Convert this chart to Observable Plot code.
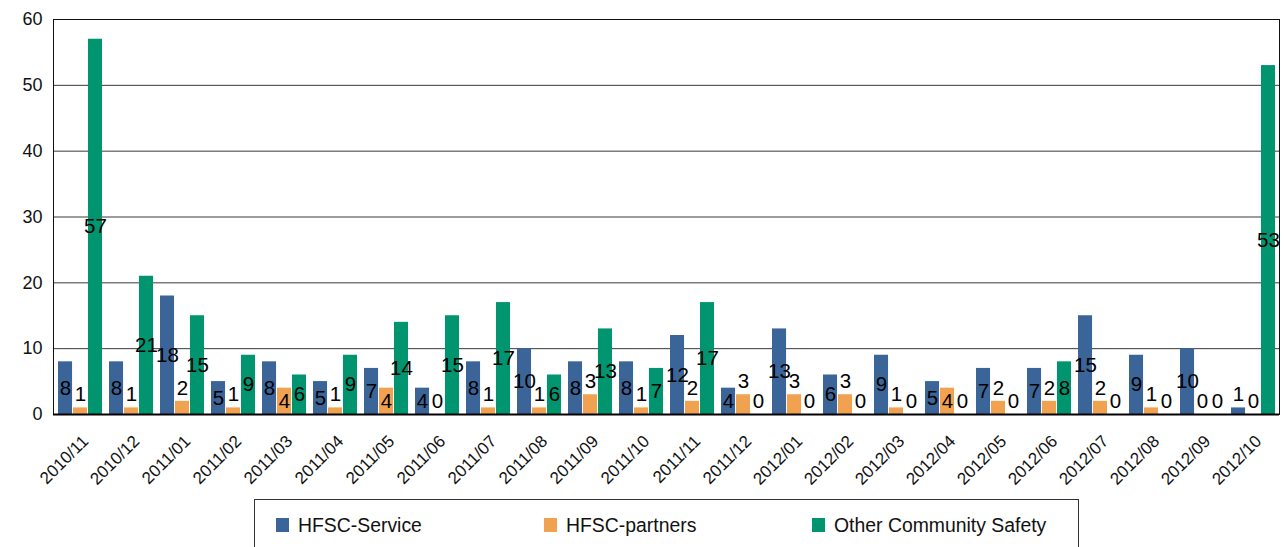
<!DOCTYPE html>
<html>
<head>
<meta charset="utf-8">
<script src="https://cdn.jsdelivr.net/npm/d3@7"></script>
<script src="https://cdn.jsdelivr.net/npm/@observablehq/plot@0.6"></script>
<style>
  html, body { margin: 0; padding: 0; background: #fff; }
  body { width: 1284px; height: 547px; overflow: hidden; position: relative; font-family: "Liberation Sans", Arial, sans-serif; }
  #chart svg { display: block; }
  #legend {
    position: absolute; left: 254px; top: 499px; width: 825px; height: 70px;
    border: 1px solid #333; box-sizing: border-box; background: #fff;
  }
  .item { position: absolute; top: 13px; display: flex; align-items: center; font-size: 19.4px; color: #111; line-height: 24px; }
  .sw { width: 13px; height: 14px; margin-right: 9px; }
</style>
</head>
<body>
<div id="chart"></div>
<div id="legend"></div>
<script>
const months = ["2010/11","2010/12","2011/01","2011/02","2011/03","2011/04","2011/05","2011/06","2011/07","2011/08","2011/09","2011/10","2011/11","2011/12","2012/01","2012/02","2012/03","2012/04","2012/05","2012/06","2012/07","2012/08","2012/09","2012/10"];
const seriesNames = ["HFSC-Service","HFSC-partners","Other Community Safety"];
const hfscService  = [8,8,18,5,8,5,7,4,8,10,8,8,12,4,13,6,9,5,7,7,15,9,10,1];
const hfscPartners = [1,1,2,1,4,1,4,0,1,1,3,1,2,3,3,3,1,4,2,2,2,1,0,0];
const otherSafety  = [57,21,15,9,6,9,14,15,17,6,13,7,17,0,0,0,0,0,0,8,0,0,0,53];
const colors = ["#3b6598","#f0a250","#00956f"];
const yTicks = [0,10,20,30,40,50,60];

const W = 1284, H = 495, mL = 53, mR = 5, mT = 19, mB = 81;
const pInner = 0.14, pOuter = 0.07;
const band = d3.scaleBand().domain(months).range([mL, W - mR]).paddingInner(pInner).paddingOuter(pOuter);
const B = band.bandwidth();
const gap = 1;
const bw = (B - 2 * gap) / 3;

const allValues = [hfscService, hfscPartners, otherSafety];
const marks = [];
marks.push(Plot.gridY(yTicks.filter(d => d > 0 && d < 60), {stroke: "#3a3a3a", strokeOpacity: 1, strokeWidth: 1}));
allValues.forEach((vals, s) => {
  const data = months.map((m, i) => ({month: m, value: vals[i]}));
  const insetLeft = s * (bw + gap);
  const insetRight = (2 - s) * (bw + gap);
  marks.push(Plot.barY(data, {x: "month", y: "value", fill: colors[s], insetLeft, insetRight}));
});
allValues.forEach((vals, s) => {
  const data = months.map((m, i) => ({month: m, value: vals[i]}));
  const dx = (s - 1) * (bw + gap);
  marks.push(Plot.text(data.filter(d => d.value >= 4), {x: "month", y: d => d.value / 2, text: d => String(d.value), dx, fontSize: 20.5, fill: "#000", lineAnchor: "middle"}));
  marks.push(Plot.text(data.filter(d => d.value < 4), {x: "month", y: "value", text: d => String(d.value), dx, dy: -13, fontSize: 20.5, fill: "#000", lineAnchor: "middle"}));
});
marks.push(Plot.frame({stroke: "#111", strokeWidth: 1}));
marks.push(Plot.ruleY([0], {stroke: "#000", strokeWidth: 2.2}));

const plot = Plot.plot({
  width: W, height: H,
  marginLeft: mL, marginRight: mR, marginTop: mT, marginBottom: mB,
  style: {fontFamily: "'Liberation Sans', Arial, sans-serif", background: "#fff", overflow: "visible"},
  x: {type: "band", domain: months, paddingInner: pInner, paddingOuter: pOuter, label: null},
  y: {domain: [0, 60], label: null},
  marks: [
    Plot.axisY(yTicks, {tickSize: 0, tickPadding: 11, fontSize: 18, fill: "#111", label: null}),
    Plot.axisX({tickSize: 0, tickPadding: 8, tickRotate: -45, fontSize: 17, fill: "#111", label: null, dx: 5, dy: 16}),
    ...marks
  ]
});
document.getElementById("chart").appendChild(plot);

const legend = document.getElementById("legend");
const lx = [21, 289, 557];
seriesNames.forEach((name, i) => {
  const it = document.createElement("div");
  it.className = "item";
  it.style.left = lx[i] + "px";
  it.innerHTML = `<div class="sw" style="background:${colors[i]}"></div><span>${name}</span>`;
  legend.appendChild(it);
});
</script>
</body>
</html>
